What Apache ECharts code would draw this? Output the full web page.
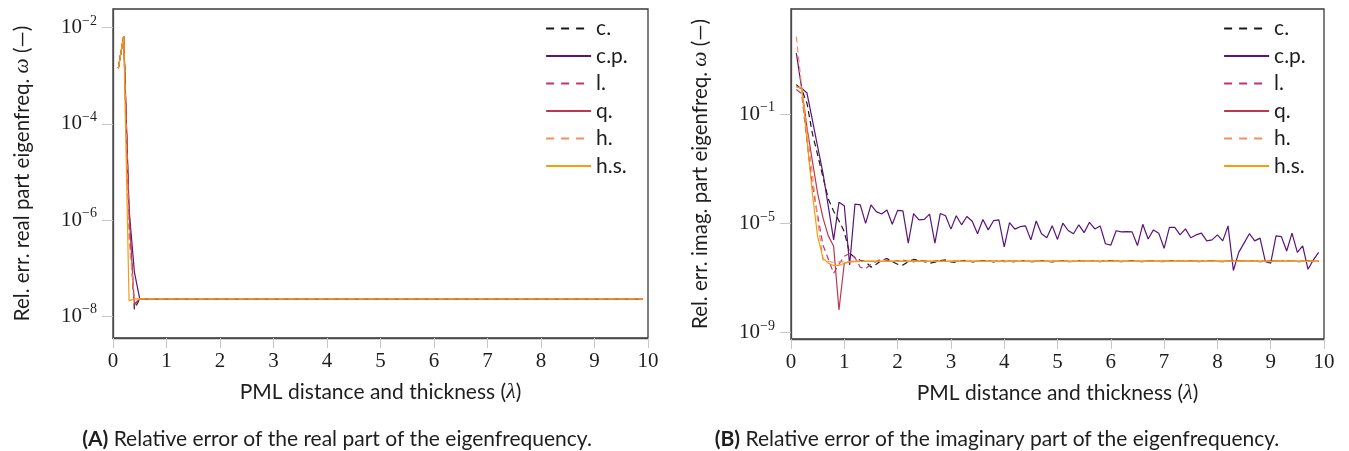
<!DOCTYPE html>
<html>
<head>
<meta charset="utf-8">
<script src="https://cdn.jsdelivr.net/npm/echarts@6/dist/echarts.min.js"></script>
<style>
html, body { margin: 0; padding: 0; background: #fff; }
#main { width: 1349px; height: 451px; }
</style>
</head>
<body>
<div id="main"></div>
<script>
// PML distance and thickness (lambda)
const xs = [
  0.1, 0.2, 0.3, 0.4, 0.5, 0.6, 0.7, 0.8, 0.9, 1.0,
  1.1, 1.2, 1.3, 1.4, 1.5, 1.6, 1.7, 1.8, 1.9, 2.0,
  2.1, 2.2, 2.3, 2.4, 2.5, 2.6, 2.7, 2.8, 2.9, 3.0,
  3.1, 3.2, 3.3, 3.4, 3.5, 3.6, 3.7, 3.8, 3.9, 4.0,
  4.1, 4.2, 4.3, 4.4, 4.5, 4.6, 4.7, 4.8, 4.9, 5.0,
  5.1, 5.2, 5.3, 5.4, 5.5, 5.6, 5.7, 5.8, 5.9, 6.0,
  6.1, 6.2, 6.3, 6.4, 6.5, 6.6, 6.7, 6.8, 6.9, 7.0,
  7.1, 7.2, 7.3, 7.4, 7.5, 7.6, 7.7, 7.8, 7.9, 8.0,
  8.1, 8.2, 8.3, 8.4, 8.5, 8.6, 8.7, 8.8, 8.9, 9.0,
  9.1, 9.2, 9.3, 9.4, 9.5, 9.6, 9.7, 9.8, 9.9
];

const names = ['c.', 'c.p.', 'l.', 'q.', 'h.', 'h.s.'];
const colors = ['#1a1a1a', '#5a137a', '#b73779', '#bc3754', '#fc8961', '#f59e0b'];
const dashed = [true, false, true, false, true, false];

// (A) real part
const realC = [
  1.45e-3, 6.7e-3, 1.0e-6, 1.4e-8, 2.3e-8, 2.3e-8, 2.3e-8, 2.3e-8, 2.3e-8, 2.3e-8,
  2.3e-8, 2.3e-8, 2.3e-8, 2.3e-8, 2.3e-8, 2.3e-8, 2.3e-8, 2.3e-8, 2.3e-8, 2.3e-8,
  2.3e-8, 2.3e-8, 2.3e-8, 2.3e-8, 2.3e-8, 2.3e-8, 2.3e-8, 2.3e-8, 2.3e-8, 2.3e-8,
  2.3e-8, 2.3e-8, 2.3e-8, 2.3e-8, 2.3e-8, 2.3e-8, 2.3e-8, 2.3e-8, 2.3e-8, 2.3e-8,
  2.3e-8, 2.3e-8, 2.3e-8, 2.3e-8, 2.3e-8, 2.3e-8, 2.3e-8, 2.3e-8, 2.3e-8, 2.3e-8,
  2.3e-8, 2.3e-8, 2.3e-8, 2.3e-8, 2.3e-8, 2.3e-8, 2.3e-8, 2.3e-8, 2.3e-8, 2.3e-8,
  2.3e-8, 2.3e-8, 2.3e-8, 2.3e-8, 2.3e-8, 2.3e-8, 2.3e-8, 2.3e-8, 2.3e-8, 2.3e-8,
  2.3e-8, 2.3e-8, 2.3e-8, 2.3e-8, 2.3e-8, 2.3e-8, 2.3e-8, 2.3e-8, 2.3e-8, 2.3e-8,
  2.3e-8, 2.3e-8, 2.3e-8, 2.3e-8, 2.3e-8, 2.3e-8, 2.3e-8, 2.3e-8, 2.3e-8, 2.3e-8,
  2.3e-8, 2.3e-8, 2.3e-8, 2.3e-8, 2.3e-8, 2.3e-8, 2.3e-8, 2.3e-8, 2.3e-8
];
const realCP = [
  1.45e-3, 6.7e-3, 1.7e-6, 8.3e-8, 2.3e-8, 2.3e-8, 2.3e-8, 2.3e-8, 2.3e-8, 2.3e-8,
  2.3e-8, 2.3e-8, 2.3e-8, 2.3e-8, 2.3e-8, 2.3e-8, 2.3e-8, 2.3e-8, 2.3e-8, 2.3e-8,
  2.3e-8, 2.3e-8, 2.3e-8, 2.3e-8, 2.3e-8, 2.3e-8, 2.3e-8, 2.3e-8, 2.3e-8, 2.3e-8,
  2.3e-8, 2.3e-8, 2.3e-8, 2.3e-8, 2.3e-8, 2.3e-8, 2.3e-8, 2.3e-8, 2.3e-8, 2.3e-8,
  2.3e-8, 2.3e-8, 2.3e-8, 2.3e-8, 2.3e-8, 2.3e-8, 2.3e-8, 2.3e-8, 2.3e-8, 2.3e-8,
  2.3e-8, 2.3e-8, 2.3e-8, 2.3e-8, 2.3e-8, 2.3e-8, 2.3e-8, 2.3e-8, 2.3e-8, 2.3e-8,
  2.3e-8, 2.3e-8, 2.3e-8, 2.3e-8, 2.3e-8, 2.3e-8, 2.3e-8, 2.3e-8, 2.3e-8, 2.3e-8,
  2.3e-8, 2.3e-8, 2.3e-8, 2.3e-8, 2.3e-8, 2.3e-8, 2.3e-8, 2.3e-8, 2.3e-8, 2.3e-8,
  2.3e-8, 2.3e-8, 2.3e-8, 2.3e-8, 2.3e-8, 2.3e-8, 2.3e-8, 2.3e-8, 2.3e-8, 2.3e-8,
  2.3e-8, 2.3e-8, 2.3e-8, 2.3e-8, 2.3e-8, 2.3e-8, 2.3e-8, 2.3e-8, 2.3e-8
];
const realL = [
  1.45e-3, 6.7e-3, 8.0e-7, 1.8e-8, 2.3e-8, 2.3e-8, 2.3e-8, 2.3e-8, 2.3e-8, 2.3e-8,
  2.3e-8, 2.3e-8, 2.3e-8, 2.3e-8, 2.3e-8, 2.3e-8, 2.3e-8, 2.3e-8, 2.3e-8, 2.3e-8,
  2.3e-8, 2.3e-8, 2.3e-8, 2.3e-8, 2.3e-8, 2.3e-8, 2.3e-8, 2.3e-8, 2.3e-8, 2.3e-8,
  2.3e-8, 2.3e-8, 2.3e-8, 2.3e-8, 2.3e-8, 2.3e-8, 2.3e-8, 2.3e-8, 2.3e-8, 2.3e-8,
  2.3e-8, 2.3e-8, 2.3e-8, 2.3e-8, 2.3e-8, 2.3e-8, 2.3e-8, 2.3e-8, 2.3e-8, 2.3e-8,
  2.3e-8, 2.3e-8, 2.3e-8, 2.3e-8, 2.3e-8, 2.3e-8, 2.3e-8, 2.3e-8, 2.3e-8, 2.3e-8,
  2.3e-8, 2.3e-8, 2.3e-8, 2.3e-8, 2.3e-8, 2.3e-8, 2.3e-8, 2.3e-8, 2.3e-8, 2.3e-8,
  2.3e-8, 2.3e-8, 2.3e-8, 2.3e-8, 2.3e-8, 2.3e-8, 2.3e-8, 2.3e-8, 2.3e-8, 2.3e-8,
  2.3e-8, 2.3e-8, 2.3e-8, 2.3e-8, 2.3e-8, 2.3e-8, 2.3e-8, 2.3e-8, 2.3e-8, 2.3e-8,
  2.3e-8, 2.3e-8, 2.3e-8, 2.3e-8, 2.3e-8, 2.3e-8, 2.3e-8, 2.3e-8, 2.3e-8
];
const realQ = [
  1.45e-3, 6.7e-3, 1.5e-6, 1.7e-8, 2.3e-8, 2.3e-8, 2.3e-8, 2.3e-8, 2.3e-8, 2.3e-8,
  2.3e-8, 2.3e-8, 2.3e-8, 2.3e-8, 2.3e-8, 2.3e-8, 2.3e-8, 2.3e-8, 2.3e-8, 2.3e-8,
  2.3e-8, 2.3e-8, 2.3e-8, 2.3e-8, 2.3e-8, 2.3e-8, 2.3e-8, 2.3e-8, 2.3e-8, 2.3e-8,
  2.3e-8, 2.3e-8, 2.3e-8, 2.3e-8, 2.3e-8, 2.3e-8, 2.3e-8, 2.3e-8, 2.3e-8, 2.3e-8,
  2.3e-8, 2.3e-8, 2.3e-8, 2.3e-8, 2.3e-8, 2.3e-8, 2.3e-8, 2.3e-8, 2.3e-8, 2.3e-8,
  2.3e-8, 2.3e-8, 2.3e-8, 2.3e-8, 2.3e-8, 2.3e-8, 2.3e-8, 2.3e-8, 2.3e-8, 2.3e-8,
  2.3e-8, 2.3e-8, 2.3e-8, 2.3e-8, 2.3e-8, 2.3e-8, 2.3e-8, 2.3e-8, 2.3e-8, 2.3e-8,
  2.3e-8, 2.3e-8, 2.3e-8, 2.3e-8, 2.3e-8, 2.3e-8, 2.3e-8, 2.3e-8, 2.3e-8, 2.3e-8,
  2.3e-8, 2.3e-8, 2.3e-8, 2.3e-8, 2.3e-8, 2.3e-8, 2.3e-8, 2.3e-8, 2.3e-8, 2.3e-8,
  2.3e-8, 2.3e-8, 2.3e-8, 2.3e-8, 2.3e-8, 2.3e-8, 2.3e-8, 2.3e-8, 2.3e-8
];
const realH = [
  1.45e-3, 6.7e-3, 4.0e-7, 2.3e-8, 2.3e-8, 2.3e-8, 2.3e-8, 2.3e-8, 2.3e-8, 2.3e-8,
  2.3e-8, 2.3e-8, 2.3e-8, 2.3e-8, 2.3e-8, 2.3e-8, 2.3e-8, 2.3e-8, 2.3e-8, 2.3e-8,
  2.3e-8, 2.3e-8, 2.3e-8, 2.3e-8, 2.3e-8, 2.3e-8, 2.3e-8, 2.3e-8, 2.3e-8, 2.3e-8,
  2.3e-8, 2.3e-8, 2.3e-8, 2.3e-8, 2.3e-8, 2.3e-8, 2.3e-8, 2.3e-8, 2.3e-8, 2.3e-8,
  2.3e-8, 2.3e-8, 2.3e-8, 2.3e-8, 2.3e-8, 2.3e-8, 2.3e-8, 2.3e-8, 2.3e-8, 2.3e-8,
  2.3e-8, 2.3e-8, 2.3e-8, 2.3e-8, 2.3e-8, 2.3e-8, 2.3e-8, 2.3e-8, 2.3e-8, 2.3e-8,
  2.3e-8, 2.3e-8, 2.3e-8, 2.3e-8, 2.3e-8, 2.3e-8, 2.3e-8, 2.3e-8, 2.3e-8, 2.3e-8,
  2.3e-8, 2.3e-8, 2.3e-8, 2.3e-8, 2.3e-8, 2.3e-8, 2.3e-8, 2.3e-8, 2.3e-8, 2.3e-8,
  2.3e-8, 2.3e-8, 2.3e-8, 2.3e-8, 2.3e-8, 2.3e-8, 2.3e-8, 2.3e-8, 2.3e-8, 2.3e-8,
  2.3e-8, 2.3e-8, 2.3e-8, 2.3e-8, 2.3e-8, 2.3e-8, 2.3e-8, 2.3e-8, 2.3e-8
];
const realHS = [
  1.45e-3, 6.7e-3, 2.1e-8, 2.3e-8, 2.3e-8, 2.3e-8, 2.3e-8, 2.3e-8, 2.3e-8, 2.3e-8,
  2.3e-8, 2.3e-8, 2.3e-8, 2.3e-8, 2.3e-8, 2.3e-8, 2.3e-8, 2.3e-8, 2.3e-8, 2.3e-8,
  2.3e-8, 2.3e-8, 2.3e-8, 2.3e-8, 2.3e-8, 2.3e-8, 2.3e-8, 2.3e-8, 2.3e-8, 2.3e-8,
  2.3e-8, 2.3e-8, 2.3e-8, 2.3e-8, 2.3e-8, 2.3e-8, 2.3e-8, 2.3e-8, 2.3e-8, 2.3e-8,
  2.3e-8, 2.3e-8, 2.3e-8, 2.3e-8, 2.3e-8, 2.3e-8, 2.3e-8, 2.3e-8, 2.3e-8, 2.3e-8,
  2.3e-8, 2.3e-8, 2.3e-8, 2.3e-8, 2.3e-8, 2.3e-8, 2.3e-8, 2.3e-8, 2.3e-8, 2.3e-8,
  2.3e-8, 2.3e-8, 2.3e-8, 2.3e-8, 2.3e-8, 2.3e-8, 2.3e-8, 2.3e-8, 2.3e-8, 2.3e-8,
  2.3e-8, 2.3e-8, 2.3e-8, 2.3e-8, 2.3e-8, 2.3e-8, 2.3e-8, 2.3e-8, 2.3e-8, 2.3e-8,
  2.3e-8, 2.3e-8, 2.3e-8, 2.3e-8, 2.3e-8, 2.3e-8, 2.3e-8, 2.3e-8, 2.3e-8, 2.3e-8,
  2.3e-8, 2.3e-8, 2.3e-8, 2.3e-8, 2.3e-8, 2.3e-8, 2.3e-8, 2.3e-8, 2.3e-8
];

// (B) imaginary part
const imagC = [
  1.2, 8.0e-1, 2.5e-1, 2.0e-2, 3.2e-3, 5.0e-4, 7.9e-5, 2.8e-5, 1.26e-5, 5.0e-6,
  8.1e-7, 5.6e-7, 4.5e-7, 4.0e-7, 2.5e-7, 3.2e-7, 4.5e-7, 5.2e-7, 4.0e-7, 3.2e-7,
  3.0e-7, 4.0e-7, 4.8e-7, 4.5e-7, 4.0e-7, 3.5e-7, 3.8e-7, 4.4e-7, 4.6e-7, 3.9e-7,
  3.7e-7, 4.3e-7, 4.5e-7, 3.9e-7, 4.0e-7, 4.4e-7, 4.3e-7, 3.9e-7, 4.0e-7, 4.3e-7,
  4.2e-7, 3.9e-7, 4.1e-7, 4.4e-7, 4.0e-7, 4.0e-7, 4.3e-7, 4.2e-7, 3.9e-7, 4.1e-7,
  4.3e-7, 4.0e-7, 4.1e-7, 4.3e-7, 4.0e-7, 4.1e-7, 4.2e-7, 4.0e-7, 4.2e-7, 4.3e-7,
  4.1e-7, 4.0e-7, 4.2e-7, 4.3e-7, 4.1e-7, 4.0e-7, 4.2e-7, 4.2e-7, 4.1e-7, 4.0e-7,
  4.2e-7, 4.3e-7, 4.1e-7, 4.1e-7, 4.2e-7, 4.0e-7, 4.1e-7, 4.2e-7, 4.2e-7, 4.1e-7,
  4.0e-7, 4.1e-7, 4.2e-7, 4.2e-7, 4.1e-7, 4.1e-7, 4.2e-7, 4.0e-7, 4.1e-7, 4.2e-7,
  4.1e-7, 4.1e-7, 4.2e-7, 4.1e-7, 4.0e-7, 4.1e-7, 4.2e-7, 4.1e-7, 4.1e-7
];
const imagCP = [
  1.7e1, 8.9e-1, 5.9e-1, 6.2e-2, 6.5e-3, 6.9e-4, 4.2e-5, 2.5e-6, 6.0e-5, 4.4e-5,
  3.0e-7, 5.1e-5, 4.8e-5, 1.0e-5, 4.8e-5, 2.7e-5, 2.2e-5, 3.1e-5, 9.3e-6, 3.0e-5,
  2.9e-5, 1.9e-6, 2.3e-5, 1.35e-5, 1.4e-5, 2.2e-5, 1.9e-6, 2.3e-5, 1.9e-5, 6.2e-6,
  1.9e-5, 8.9e-6, 1.8e-5, 1.2e-5, 4.2e-6, 1.4e-5, 5.8e-6, 1.26e-5, 1.35e-5, 1.4e-6,
  1.07e-5, 6.2e-6, 7.6e-6, 8.1e-6, 2.5e-6, 1.23e-5, 4.2e-6, 3.0e-6, 8.3e-6, 2.6e-6,
  1.02e-5, 5.5e-6, 4.2e-6, 8.9e-6, 4.6e-6, 1.1e-5, 6.3e-6, 8.1e-6, 1.8e-6, 1.6e-6,
  5.4e-6, 4.9e-6, 5.0e-6, 4.9e-6, 1.55e-6, 9.3e-6, 2.7e-6, 5.8e-6, 4.4e-6, 1.23e-6,
  7.2e-6, 7.2e-6, 3.8e-6, 6.3e-6, 3.0e-6, 3.8e-6, 4.4e-6, 2.3e-6, 2.5e-6, 3.8e-6,
  2.3e-6, 8.1e-6, 1.9e-7, 8.7e-7, 1.9e-6, 4.2e-6, 2.3e-6, 2.9e-6, 4.0e-7, 3.5e-7,
  3.5e-6, 3.3e-6, 9.8e-7, 4.4e-6, 8.7e-7, 1.5e-6, 2.1e-7, 4.6e-7, 8.7e-7
];
const imagL = [
  8.0e-1, 5.6e-1, 1.0e-2, 2.5e-4, 2.0e-5, 1.6e-6, 5.0e-7, 1.5e-7, 3.2e-7, 6.3e-7,
  7.9e-7, 5.6e-7, 2.5e-7, 2.2e-7, 3.2e-7, 4.0e-7, 5.0e-7, 4.5e-7, 4.0e-7, 4.3e-7,
  4.6e-7, 4.0e-7, 3.9e-7, 4.4e-7, 4.3e-7, 4.0e-7, 4.2e-7, 4.4e-7, 4.1e-7, 4.0e-7,
  4.2e-7, 4.3e-7, 4.1e-7, 4.0e-7, 4.2e-7, 4.3e-7, 4.1e-7, 4.1e-7, 4.2e-7, 4.0e-7,
  4.1e-7, 4.2e-7, 4.2e-7, 4.1e-7, 4.1e-7, 4.2e-7, 4.1e-7, 4.1e-7, 4.2e-7, 4.1e-7,
  4.1e-7, 4.2e-7, 4.1e-7, 4.1e-7, 4.2e-7, 4.1e-7, 4.1e-7, 4.2e-7, 4.1e-7, 4.1e-7,
  4.2e-7, 4.1e-7, 4.1e-7, 4.2e-7, 4.1e-7, 4.1e-7, 4.2e-7, 4.1e-7, 4.1e-7, 4.2e-7,
  4.1e-7, 4.1e-7, 4.2e-7, 4.1e-7, 4.1e-7, 4.2e-7, 4.1e-7, 4.1e-7, 4.2e-7, 4.1e-7,
  4.1e-7, 4.2e-7, 4.1e-7, 4.1e-7, 4.2e-7, 4.1e-7, 4.1e-7, 4.2e-7, 4.1e-7, 4.1e-7,
  4.2e-7, 4.1e-7, 4.1e-7, 4.2e-7, 4.1e-7, 4.1e-7, 4.2e-7, 4.1e-7, 4.1e-7
];
const imagQ = [
  1.0, 8.9e-1, 3.2e-2, 2.0e-3, 1.26e-4, 1.6e-5, 3.5e-6, 1.45e-6, 6.8e-9, 3.5e-7,
  4.0e-7, 4.1e-7, 4.1e-7, 4.1e-7, 4.1e-7, 4.1e-7, 4.1e-7, 4.1e-7, 4.1e-7, 4.1e-7,
  4.1e-7, 4.1e-7, 4.1e-7, 4.1e-7, 4.1e-7, 4.1e-7, 4.1e-7, 4.1e-7, 4.1e-7, 4.1e-7,
  4.1e-7, 4.1e-7, 4.1e-7, 4.1e-7, 4.1e-7, 4.1e-7, 4.1e-7, 4.1e-7, 4.1e-7, 4.1e-7,
  4.1e-7, 4.1e-7, 4.1e-7, 4.1e-7, 4.1e-7, 4.1e-7, 4.1e-7, 4.1e-7, 4.1e-7, 4.1e-7,
  4.1e-7, 4.1e-7, 4.1e-7, 4.1e-7, 4.1e-7, 4.1e-7, 4.1e-7, 4.1e-7, 4.1e-7, 4.1e-7,
  4.1e-7, 4.1e-7, 4.1e-7, 4.1e-7, 4.1e-7, 4.1e-7, 4.1e-7, 4.1e-7, 4.1e-7, 4.1e-7,
  4.1e-7, 4.1e-7, 4.1e-7, 4.1e-7, 4.1e-7, 4.1e-7, 4.1e-7, 4.1e-7, 4.1e-7, 4.1e-7,
  4.1e-7, 4.1e-7, 4.1e-7, 4.1e-7, 4.1e-7, 4.1e-7, 4.1e-7, 4.1e-7, 4.1e-7, 4.1e-7,
  4.1e-7, 4.1e-7, 4.1e-7, 4.1e-7, 4.1e-7, 4.1e-7, 4.1e-7, 4.1e-7, 4.1e-7
];
const imagH = [
  6.9e1, 1.0, 2.6e-2, 6.9e-4, 1.35e-5, 4.6e-7, 4.0e-7, 3.8e-7, 3.9e-7, 4.0e-7,
  4.1e-7, 4.1e-7, 4.1e-7, 4.1e-7, 4.1e-7, 4.1e-7, 4.1e-7, 4.1e-7, 4.1e-7, 4.1e-7,
  4.1e-7, 4.1e-7, 4.1e-7, 4.1e-7, 4.1e-7, 4.1e-7, 4.1e-7, 4.1e-7, 4.1e-7, 4.1e-7,
  4.1e-7, 4.1e-7, 4.1e-7, 4.1e-7, 4.1e-7, 4.1e-7, 4.1e-7, 4.1e-7, 4.1e-7, 4.1e-7,
  4.1e-7, 4.1e-7, 4.1e-7, 4.1e-7, 4.1e-7, 4.1e-7, 4.1e-7, 4.1e-7, 4.1e-7, 4.1e-7,
  4.1e-7, 4.1e-7, 4.1e-7, 4.1e-7, 4.1e-7, 4.1e-7, 4.1e-7, 4.1e-7, 4.1e-7, 4.1e-7,
  4.1e-7, 4.1e-7, 4.1e-7, 4.1e-7, 4.1e-7, 4.1e-7, 4.1e-7, 4.1e-7, 4.1e-7, 4.1e-7,
  4.1e-7, 4.1e-7, 4.1e-7, 4.1e-7, 4.1e-7, 4.1e-7, 4.1e-7, 4.1e-7, 4.1e-7, 4.1e-7,
  4.1e-7, 4.1e-7, 4.1e-7, 4.1e-7, 4.1e-7, 4.1e-7, 4.1e-7, 4.1e-7, 4.1e-7, 4.1e-7,
  4.1e-7, 4.1e-7, 4.1e-7, 4.1e-7, 4.1e-7, 4.1e-7, 4.1e-7, 4.1e-7, 4.1e-7
];
const imagHS = [
  1.0, 8.9e-1, 1.15e-2, 1.3e-4, 3.3e-6, 5.4e-7, 3.5e-7, 2.9e-7, 2.9e-7, 3.5e-7,
  3.9e-7, 4.0e-7, 4.1e-7, 4.1e-7, 4.1e-7, 4.1e-7, 4.1e-7, 4.1e-7, 4.1e-7, 4.1e-7,
  4.1e-7, 4.1e-7, 4.1e-7, 4.1e-7, 4.1e-7, 4.1e-7, 4.1e-7, 4.1e-7, 4.1e-7, 4.1e-7,
  4.1e-7, 4.1e-7, 4.1e-7, 4.1e-7, 4.1e-7, 4.1e-7, 4.1e-7, 4.1e-7, 4.1e-7, 4.1e-7,
  4.1e-7, 4.1e-7, 4.1e-7, 4.1e-7, 4.1e-7, 4.1e-7, 4.1e-7, 4.1e-7, 4.1e-7, 4.1e-7,
  4.1e-7, 4.1e-7, 4.1e-7, 4.1e-7, 4.1e-7, 4.1e-7, 4.1e-7, 4.1e-7, 4.1e-7, 4.1e-7,
  4.1e-7, 4.1e-7, 4.1e-7, 4.1e-7, 4.1e-7, 4.1e-7, 4.1e-7, 4.1e-7, 4.1e-7, 4.1e-7,
  4.1e-7, 4.1e-7, 4.1e-7, 4.1e-7, 4.1e-7, 4.1e-7, 4.1e-7, 4.1e-7, 4.1e-7, 4.1e-7,
  4.1e-7, 4.1e-7, 4.1e-7, 4.1e-7, 4.1e-7, 4.1e-7, 4.1e-7, 4.1e-7, 4.1e-7, 4.1e-7,
  4.1e-7, 4.1e-7, 4.1e-7, 4.1e-7, 4.1e-7, 4.1e-7, 4.1e-7, 4.1e-7, 4.1e-7
];

const realTicks = [1e-8, 1e-6, 1e-4, 1e-2];
const imagTicks = [1e-9, 1e-5, 1e-1];

const textColor = '#1e1e1e';
const sans = 'Lato, "Open Sans", sans-serif';
const serif = '"Liberation Serif", "DejaVu Serif", serif';

var myChart = echarts.init(document.getElementById('main'), null, { renderer: 'canvas' });

// 10^n 标签
function powLabel(v) {
  var e = Math.round(Math.log10(v));
  return '{b|10}{s|' + (e < 0 ? '\u2212' + (-e) : e) + '}';
}

function makeSeries(sets, idx) {
  return names.map(function (n, k) {
    return {
      name: n,
      type: 'line',
      xAxisIndex: idx,
      yAxisIndex: idx,
      data: xs.map(function (x, i) { return [x, sets[k][i]]; }),
      symbol: 'none',
      showSymbol: false,
      animation: false,
      silent: true,
      lineStyle: { color: colors[k], width: 1.2, type: dashed[k] ? [6, 4] : 'solid' },
      itemStyle: { color: colors[k] }
    };
  });
}

function makeLegend(left) {
  return {
    orient: 'vertical',
    left: left,
    top: 18,
    padding: 0,
    itemWidth: 45,
    itemHeight: 14,
    itemGap: 6.5,
    selectedMode: false,
    textStyle: { fontFamily: sans, fontSize: 21, color: textColor },
    data: names.map(function (n, k) {
      return {
        name: n,
        itemStyle: { opacity: 0 },
        lineStyle: { width: 2.2, type: dashed[k] ? [8, 7] : 'solid' }
      };
    })
  };
}

function makeXAxis(idx) {
  return {
    type: 'value',
    gridIndex: idx,
    min: 0,
    max: 10,
    interval: 1,
    name: '{a|PML distance and thickness (}{l|\u03bb}{a|)}',
    nameLocation: 'middle',
    nameGap: 43,
    nameTextStyle: {
      rich: {
        a: { fontFamily: sans, fontSize: 21, color: textColor },
        l: { fontFamily: serif, fontStyle: 'italic', fontSize: 22, color: textColor }
      }
    },
    axisLine: { show: true, onZero: false, lineStyle: { color: '#4a4a4a', width: 1.3 } },
    axisTick: { show: true, length: 10, lineStyle: { color: '#c8c8c8', width: 1 } },
    axisLabel: { margin: 13, fontFamily: serif, fontSize: 21, color: textColor },
    splitLine: { show: false }
  };
}

function makeYAxis(idx, min, max, ticks, title) {
  return {
    type: 'log',
    logBase: 10,
    gridIndex: idx,
    min: min,
    max: max,
    name: '{a|' + title + ' }{w|\u03c9}{a| (\u2014)}',
    nameLocation: 'middle',
    nameRotate: 90,
    nameGap: 80,
    nameTextStyle: {
      rich: {
        a: { fontFamily: sans, fontSize: 20.5, color: textColor },
        w: { fontFamily: serif, fontStyle: 'italic', fontSize: 21.5, color: textColor }
      }
    },
    axisLine: { show: true, lineStyle: { color: '#4a4a4a', width: 1.3 } },
    axisTick: { show: true, length: 11, customValues: ticks, lineStyle: { color: '#c8c8c8', width: 1 } },
    minorTick: { show: false },
    axisLabel: {
      margin: 16,
      customValues: ticks,
      formatter: powLabel,
      rich: {
        b: { fontFamily: serif, fontSize: 21, color: textColor },
        s: { fontFamily: serif, fontSize: 14, color: textColor, padding: [0, 0, 13, 0] }
      }
    },
    splitLine: { show: false }
  };
}

function caption(x, tag, text) {
  return {
    type: 'text',
    x: x,
    y: 439,
    silent: true,
    style: {
      text: '{b|' + tag + '}{t| ' + text + '}',
      textAlign: 'center',
      textVerticalAlign: 'middle',
      rich: {
        b: { fontFamily: sans, fontSize: 21, fontWeight: 'bold', fill: textColor },
        t: { fontFamily: sans, fontSize: 21, fill: textColor }
      }
    }
  };
}

option = {
  backgroundColor: '#fff',
  animation: false,
  grid: [
    { left: 113, top: 9, width: 535, height: 329, show: true, borderColor: '#3a3a3a', borderWidth: 1.3, outerBoundsMode: 'none' },
    { left: 791, top: 9, width: 533, height: 330, show: true, borderColor: '#3a3a3a', borderWidth: 1.3, outerBoundsMode: 'none' }
  ],
  legend: [makeLegend(545), makeLegend(1223)],
  xAxis: [makeXAxis(0), makeXAxis(1)],
  yAxis: [
    makeYAxis(0, 3.54e-9, 2.45e-2, realTicks, 'Rel. err. real part eigenfreq.'),
    makeYAxis(1, 5.9e-10, 702, imagTicks, 'Rel. err. imag. part eigenfreq.')
  ],
  series: makeSeries([realC, realCP, realL, realQ, realH, realHS], 0)
    .concat(makeSeries([imagC, imagCP, imagL, imagQ, imagH, imagHS], 1)),
  graphic: [
    caption(337, '(A)', 'Relative error of the real part of the eigenfrequency.'),
    caption(997, '(B)', 'Relative error of the imaginary part of the eigenfrequency.')
  ]
};

myChart.setOption(option);
</script>
</body>
</html>
